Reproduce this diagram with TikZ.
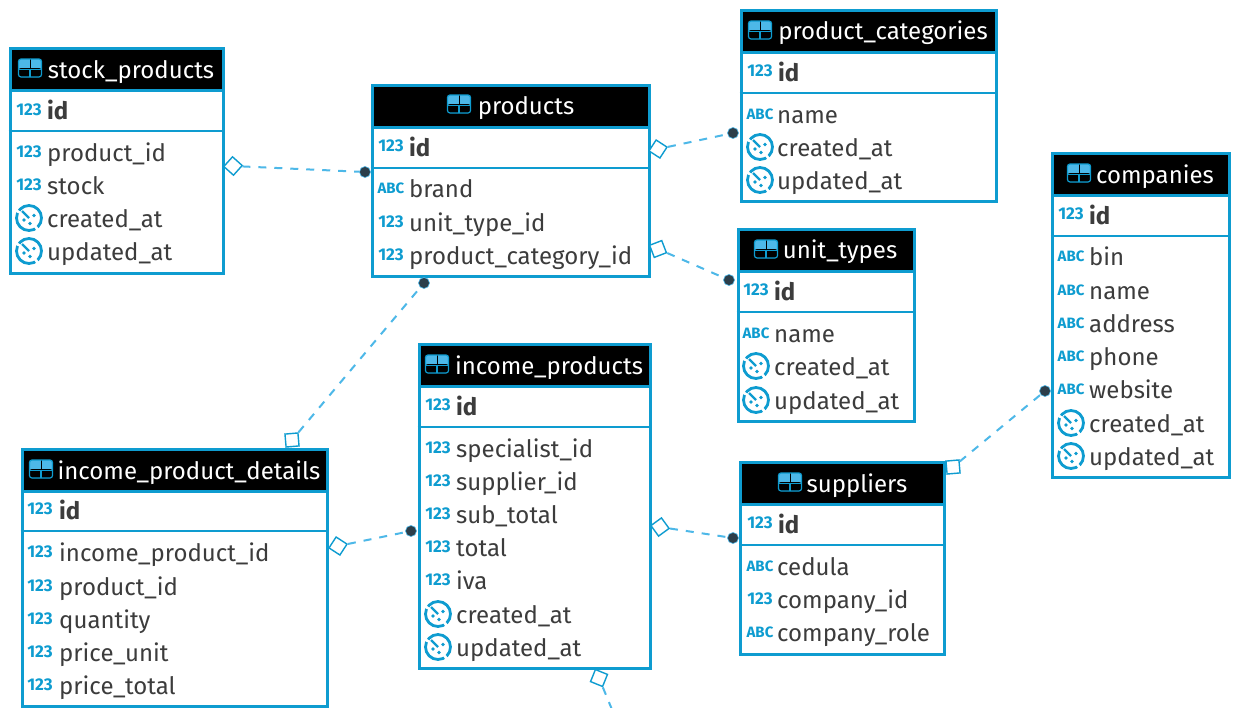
\documentclass[tikz,border=0pt]{standalone}
\usepackage{fontspec}
\setmainfont{Fira Sans}
\usetikzlibrary{shapes.geometric}
\definecolor{dbblue}{HTML}{0E9CD0}
\definecolor{dblight}{HTML}{4DB8E8}
\definecolor{dbdot}{HTML}{2C3E4A}
\definecolor{dbtext}{HTML}{3C3C3C}
\catcode`\_=12
\tikzset{
  tablebox/.style={draw=dbblue, line width=3pt, fill=white, inner sep=0pt},
  headbox/.style={draw=dbblue, line width=3pt, fill=black, inner sep=0pt, anchor=north west},
  sepline/.style={draw=dbblue, line width=1.6pt},
  headtext/.style={text=white, inner sep=0pt, font=\fontsize{24}{24}\selectfont},
  rowtext/.style={text=dbtext, inner sep=0pt, anchor=base west, font=\fontsize{24}{24}\selectfont},
  idtext/.style={rowtext, font=\fontsize{24}{24}\selectfont\bfseries},
  numicon/.style={text=dbblue, inner sep=0pt, font=\fontsize{17}{17}\selectfont\bfseries, node contents={123}},
  abcicon/.style={text=dbblue, inner sep=0pt, font=\fontsize{15}{15}\selectfont\bfseries, node contents={ABC}},
  clockicon/.style={circle, draw=dbblue, line width=2.8pt, dash pattern=on 31pt off 3pt, minimum size=25pt, inner sep=0pt, node contents={},
    path picture={
      \draw [dbblue, line width=2.4pt, solid] (path picture bounding box.center) -- +(-7,7);
      \fill [dbblue] (path picture bounding box.center) ++(5,2.5) circle (1.9);
      \fill [dbblue] (path picture bounding box.center) ++(1,-5.5) circle (1.9);
      \fill [dbblue] (path picture bounding box.center) ++(-5,-2) circle (1.9);
    }},
  tableicon/.style={rectangle, rounded corners=2.5pt, fill=dblight, draw=dbblue, line width=1.2pt, minimum width=23pt, minimum height=18pt, inner sep=0pt, node contents={},
    path picture={
      \fill [black] (path picture bounding box.west) rectangle (path picture bounding box.south east);
      \draw [dbblue, line width=1.4pt] ([yshift=-1.5pt]path picture bounding box.center) -- (path picture bounding box.south);
      \draw [black, line width=1pt] (path picture bounding box.center) -- (path picture bounding box.north);
      \draw [dbblue, line width=1.4pt] ([yshift=-1.5pt]path picture bounding box.west) -- ([yshift=-1.5pt]path picture bounding box.east);
    }},
  fkdiamond/.style={rectangle, draw=dbblue, line width=1.4pt, fill=white, minimum size=13pt, inner sep=0pt},
  fkdot/.style={circle, fill=dbdot, draw=dblight, line width=0.6pt, minimum size=11pt, inner sep=0pt},
  fkline/.style={draw=dblight, line width=2pt, dash pattern=on 8pt off 8pt}
}
\begin{document}
\begin{tikzpicture}[x=1pt,y=1pt]
\useasboundingbox (0,0) rectangle (1241,-707);
\fill [white] (0,0) rectangle (1241,-707);

\node [tablebox, minimum width=213, minimum height=225] (stock_products) at (116.5,-160.5) {};
\node [headbox, minimum width=213, minimum height=42] (stock_products_head) at (stock_products.north west) {};
\node [headtext] (stock_products_title) at (131,-72) {stock_products};
\node (stock_products_icon) at (30,-68) [tableicon];
\draw [sepline] (stock_products.west |- 0,-131) -- (stock_products.east |- 0,-131);
\node (stock_products_id_icon) at (29,-110) [numicon];
\node [idtext] (stock_products_id) at (47,-119) {id};
\foreach \rowy/\rowicon/\rowname in {153/numicon/product_id, 186/numicon/stock, 219/clockicon/created_at, 252/clockicon/updated_at} {
  \node (stock_products_\rowname_icon) at (29,-\rowy+1) [\rowicon];
  \node [rowtext] (stock_products_\rowname) at (47,-\rowy-8) {\rowname};
}

\node [tablebox, minimum width=277, minimum height=191] (products) at (510.5,-180.5) {};
\node [headbox, minimum width=277, minimum height=42] (products_head) at (products.north west) {};
\node [headtext] (products_title) at (526,-108) {products};
\node (products_icon) at (459,-104) [tableicon];
\draw [sepline] (products.west |- 0,-168) -- (products.east |- 0,-168);
\node (products_id_icon) at (391,-146) [numicon];
\node [idtext] (products_id) at (409,-156) {id};
\foreach \rowy/\rowicon/\rowname in {189/abcicon/brand, 223/numicon/unit_type_id, 256/numicon/product_category_id} {
  \node (products_\rowname_icon) at (391,-\rowy+1) [\rowicon];
  \node [rowtext] (products_\rowname) at (409,-\rowy-8) {\rowname};
}

\node [tablebox, minimum width=255, minimum height=191] (product_categories) at (868.5,-105.5) {};
\node [headbox, minimum width=255, minimum height=42] (product_categories_head) at (product_categories.north west) {};
\node [headtext] (product_categories_title) at (883,-33) {product_categories};
\node (product_categories_icon) at (760,-30) [tableicon];
\draw [sepline] (product_categories.west |- 0,-93) -- (product_categories.east |- 0,-93);
\node (product_categories_id_icon) at (760,-71) [numicon];
\node [idtext] (product_categories_id) at (778,-81) {id};
\foreach \rowy/\rowicon/\rowname in {115/abcicon/name, 148/clockicon/created_at, 181/clockicon/updated_at} {
  \node (product_categories_\rowname_icon) at (760,-\rowy+1) [\rowicon];
  \node [rowtext] (product_categories_\rowname) at (777,-\rowy-8) {\rowname};
}

\node [tablebox, minimum width=176, minimum height=192] (unit_types) at (826,-325) {};
\node [headbox, minimum width=176, minimum height=42] (unit_types_head) at (unit_types.north west) {};
\node [headtext] (unit_types_title) at (840,-252) {unit_types};
\node (unit_types_icon) at (766,-249) [tableicon];
\draw [sepline] (unit_types.west |- 0,-312) -- (unit_types.east |- 0,-312);
\node (unit_types_id_icon) at (756,-290) [numicon];
\node [idtext] (unit_types_id) at (774,-300) {id};
\foreach \rowy/\rowicon/\rowname in {334/abcicon/name, 367/clockicon/created_at, 401/clockicon/updated_at} {
  \node (unit_types_\rowname_icon) at (756,-\rowy+1) [\rowicon];
  \node [rowtext] (unit_types_\rowname) at (774,-\rowy-8) {\rowname};
}

\node [tablebox, minimum width=177, minimum height=324] (companies) at (1140.5,-315) {};
\node [headbox, minimum width=177, minimum height=42] (companies_head) at (companies.north west) {};
\node [headtext] (companies_title) at (1155,-177) {companies};
\node (companies_icon) at (1079,-173) [tableicon];
\draw [sepline] (companies.west |- 0,-236) -- (companies.east |- 0,-236);
\node (companies_id_icon) at (1071,-214) [numicon];
\node [idtext] (companies_id) at (1089,-224) {id};
\foreach \rowy/\rowicon/\rowname in {257/abcicon/bin, 291/abcicon/name, 324/abcicon/address, 357/abcicon/phone, 390/abcicon/website, 424/clockicon/created_at, 457/clockicon/updated_at} {
  \node (companies_\rowname_icon) at (1071,-\rowy+1) [\rowicon];
  \node [rowtext] (companies_\rowname) at (1089,-\rowy-8) {\rowname};
}

\node [tablebox, minimum width=231, minimum height=324] (income_products) at (534.5,-506) {};
\node [headbox, minimum width=231, minimum height=42] (income_products_head) at (income_products.north west) {};
\node [headtext] (income_products_title) at (549,-368) {income_products};
\node (income_products_icon) at (437,-364) [tableicon];
\draw [sepline] (income_products.west |- 0,-427) -- (income_products.east |- 0,-427);
\node (income_products_id_icon) at (438,-405) [numicon];
\node [idtext] (income_products_id) at (456,-415) {id};
\foreach \rowy/\rowicon/\rowname in {449/numicon/specialist_id, 482/numicon/supplier_id, 515/numicon/sub_total, 548/numicon/total, 581/numicon/iva, 615/clockicon/created_at, 648/clockicon/updated_at} {
  \node (income_products_\rowname_icon) at (438,-\rowy+1) [\rowicon];
  \node [rowtext] (income_products_\rowname) at (456,-\rowy-8) {\rowname};
}

\node [tablebox, minimum width=305, minimum height=257] (income_product_details) at (174.5,-577.5) {};
\node [headbox, minimum width=305, minimum height=42] (income_product_details_head) at (income_product_details.north west) {};
\node [headtext] (income_product_details_title) at (189,-473) {income_product_details};
\node (income_product_details_icon) at (41,-469) [tableicon];
\draw [sepline] (income_product_details.west |- 0,-531) -- (income_product_details.east |- 0,-531);
\node (income_product_details_id_icon) at (40,-509) [numicon];
\node [idtext] (income_product_details_id) at (59,-519) {id};
\foreach \rowy/\rowicon/\rowname in {553/numicon/income_product_id, 587/numicon/product_id, 620/numicon/quantity, 653/numicon/price_unit, 686/numicon/price_total} {
  \node (income_product_details_\rowname_icon) at (40,-\rowy+1) [\rowicon];
  \node [rowtext] (income_product_details_\rowname) at (59,-\rowy-8) {\rowname};
}

\node [tablebox, minimum width=204, minimum height=192] (suppliers) at (842.5,-558) {};
\node [headbox, minimum width=204, minimum height=42] (suppliers_head) at (suppliers.north west) {};
\node [headtext] (suppliers_title) at (857,-486) {suppliers};
\node (suppliers_icon) at (790,-482) [tableicon];
\draw [sepline] (suppliers.west |- 0,-545) -- (suppliers.east |- 0,-545);
\node (suppliers_id_icon) at (760,-523) [numicon];
\node [idtext] (suppliers_id) at (778,-533) {id};
\foreach \rowy/\rowicon/\rowname in {567/abcicon/cedula, 600/numicon/company_id, 633/abcicon/company_role} {
  \node (suppliers_\rowname_icon) at (760,-\rowy+1) [\rowicon];
  \node [rowtext] (suppliers_\rowname) at (777,-\rowy-8) {\rowname};
}

\node [fkdiamond, rotate=48] (stock_products_fk) at (233,-166) {};
\node [fkdot] (products_pk_a) at (365,-172) {};
\draw [fkline] (stock_products_fk) -- (products_pk_a);
\node [fkdiamond, rotate=57] (products_fk_a) at (658,-149) {};
\node [fkdot] (product_categories_pk) at (733,-133) {};
\draw [fkline] (products_fk_a) -- (product_categories_pk);
\node [fkdiamond, rotate=21] (products_fk_b) at (658,-249) {};
\node [fkdot] (unit_types_pk) at (729,-280) {};
\draw [fkline] (products_fk_b) -- (unit_types_pk);
\node [fkdiamond, rotate=5] (income_product_details_fk) at (292,-440) {};
\node [fkdot] (products_pk_b) at (424,-283) {};
\draw [fkline] (income_product_details_fk) -- (products_pk_b);
\node [fkdiamond, rotate=57] (income_product_details_fk_b) at (338,-546) {};
\node [fkdot] (income_products_pk) at (411,-531) {};
\draw [fkline] (income_product_details_fk_b) -- (income_products_pk);
\node [fkdiamond, rotate=36] (income_products_fk) at (660,-527) {};
\node [fkdot] (suppliers_pk) at (733,-538) {};
\draw [fkline] (income_products_fk) -- (suppliers_pk);
\node [fkdiamond, rotate=5] (suppliers_fk) at (953,-467) {};
\node [fkdot] (companies_pk) at (1045,-391) {};
\draw [fkline] (suppliers_fk) -- (companies_pk);
\node [fkdiamond, rotate=-22] (income_products_fk_b) at (599,-678) {};
\coordinate (offpage_end) at (613,-712);
\draw [fkline] (income_products_fk_b) -- (offpage_end);
\end{tikzpicture}
\end{document}
